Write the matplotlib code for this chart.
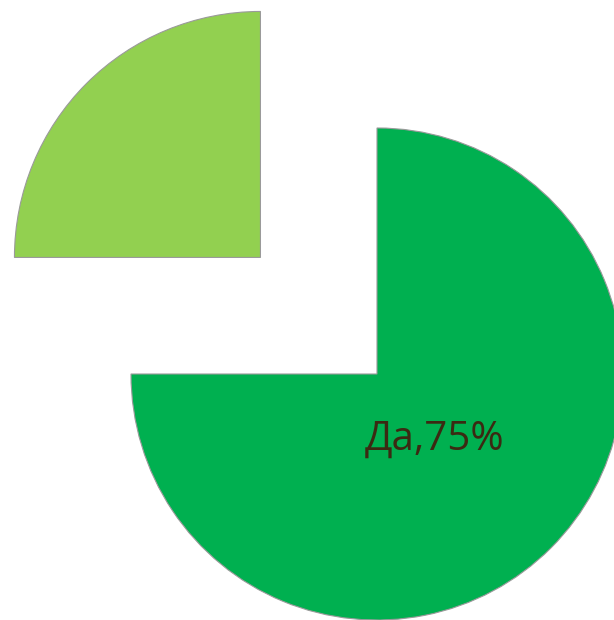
import matplotlib
matplotlib.use("Agg")
import matplotlib.pyplot as plt

categories = ["Да", "Нет"]
values = [75, 25]
labels = ["Да,75%", ""]
colors = ["#00B050", "#92D050"]
explode = [0.0, 0.67]

plt.rcParams['font.family'] = ['Open Sans', 'DejaVu Sans']

fig = plt.figure(figsize=(6.14, 6.20), dpi=100)
ax = fig.add_axes([0, 0, 1, 1])
wedges, texts = ax.pie(values, labels=labels, colors=colors, explode=explode,
                       startangle=90, counterclock=False, labeldistance=0.36,
                       wedgeprops=dict(edgecolor="#9a9a9a", linewidth=0.8),
                       textprops=dict(fontsize=29, color="#3b2a12"))
for t in texts:
    t.set_ha("center")
    t.set_va("center")
    x, y = t.get_position()
    t.set_position((x - 0.02, y - 0.01))
ax.set_aspect("equal")
ax.set_xlim(-1.5325, 0.9634)
ax.set_ylim(-1.0, 1.5203)
ax.axis("off")
fig.savefig("out.png", dpi=100)
